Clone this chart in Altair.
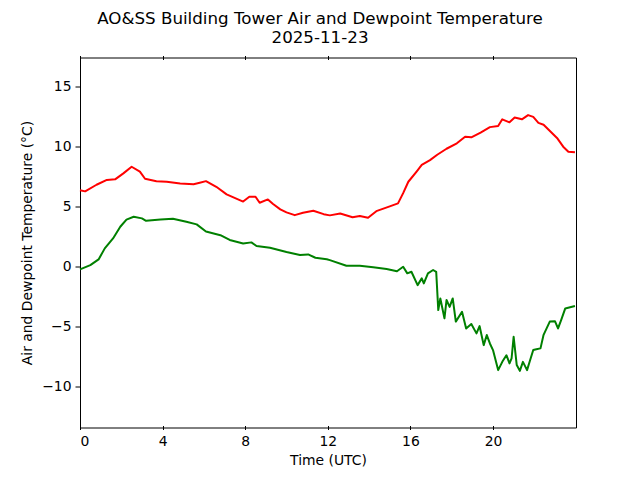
import altair as alt
import pandas as pd

# Air temperature (red): hours UTC, °C
air_hours = [0.0, 0.25, 0.8, 1.3, 1.7, 2.1, 2.5, 2.9, 3.15, 3.7, 4.2, 4.85, 5.5, 5.8, 6.1,
             6.6, 7.1, 7.9, 8.2, 8.5, 8.7, 9.1, 9.35, 9.7, 10.0, 10.4, 10.8, 11.3, 11.8,
             12.1, 12.6, 13.2, 13.55, 13.95, 14.35, 15.0, 15.4, 15.65, 15.9, 16.3, 16.55,
             16.95, 17.3, 17.75, 18.25, 18.65, 18.95, 19.4, 19.85, 20.25, 20.45, 20.8,
             21.05, 21.4, 21.7, 21.95, 22.2, 22.45, 23.1, 23.4, 23.65, 23.97]
air_temp = [6.35, 6.25, 6.8, 7.2, 7.25, 7.75, 8.3, 7.9, 7.3, 7.1, 7.05, 6.9, 6.85, 6.97, 7.1,
            6.63, 6.0, 5.4, 5.8, 5.8, 5.3, 5.58, 5.2, 4.75, 4.5, 4.27, 4.47, 4.63, 4.35,
            4.25, 4.4, 4.1, 4.2, 4.05, 4.6, 5.0, 5.25, 6.1, 7.05, 7.9, 8.45,
            8.85, 9.3, 9.8, 10.25, 10.8, 10.75, 11.15, 11.6, 11.7, 12.25, 12.0,
            12.4, 12.25, 12.6, 12.45, 11.95, 11.8, 10.7, 9.97, 9.55, 9.5]

# Dewpoint temperature (green): hours UTC, °C
dew_hours = [0.0, 0.5, 0.9, 1.2, 1.6, 1.95, 2.25, 2.6, 3.0, 3.2, 3.9, 4.5, 5.15, 5.65, 6.1,
             6.8, 7.25, 7.9, 8.3, 8.55, 9.2, 10.0, 10.65, 11.05, 11.4, 11.95, 12.1, 12.9,
             13.55, 14.2, 14.85, 15.35, 15.65, 15.85, 16.05, 16.35, 16.55, 16.65, 16.85,
             17.1, 17.25, 17.35, 17.45, 17.65, 17.75, 17.9, 18.05, 18.2, 18.5, 18.7, 18.95,
             19.2, 19.35, 19.55, 19.7, 19.85, 20.0, 20.25, 20.45, 20.65, 20.8, 20.9, 21.0,
             21.15, 21.3, 21.45, 21.65, 21.8, 21.95, 22.1, 22.3, 22.45, 22.75, 23.0, 23.15,
             23.3, 23.5, 23.97]
dew_temp = [-0.25, 0.1, 0.58, 1.5, 2.33, 3.3, 3.9, 4.13, 4.0, 3.8, 3.9, 3.97, 3.72, 3.5, 2.9,
            2.6, 2.2, 1.9, 2.0, 1.7, 1.55, 1.2, 0.95, 1.0, 0.72, 0.6, 0.52, 0.05,
            0.05, -0.08, -0.22, -0.4, -0.03, -0.58, -0.45, -1.56, -1.0, -1.42, -0.58,
            -0.3, -0.45, -3.64, -2.67, -4.33, -2.8, -3.37, -2.67, -4.6, -3.78, -5.17, -4.8,
            -5.58, -4.97, -6.56, -5.72, -6.42, -6.97, -8.64, -7.95, -7.4, -8.08, -7.67, -5.86,
            -8.22, -8.7, -7.95, -8.64, -7.8, -6.97, -6.9, -6.83, -5.7, -4.6, -4.56, -5.17,
            -4.47, -3.5, -3.3]

x_ticks = [0, 4, 8, 12, 16, 20]
y_ticks = [-10, -5, 0, 5, 10, 15]
series_names = ["Air", "Dewpoint"]
series_colors = ["#ff0000", "#008000"]

df = pd.concat([
    pd.DataFrame({"hour": air_hours, "temp": air_temp, "series": "Air"}),
    pd.DataFrame({"hour": dew_hours, "temp": dew_temp, "series": "Dewpoint"}),
])

FONT = "DejaVu Sans"
xscale = alt.Scale(domain=[0, 24.02], nice=False, zero=False)
yscale = alt.Scale(domain=[-13.42, 17.4], nice=False, zero=False)

lines = alt.Chart(df).mark_line(strokeWidth=2, strokeJoin="round").encode(
    x=alt.X("hour:Q", scale=xscale,
            axis=alt.Axis(orient="bottom", values=x_ticks, format="d", domain=False,
                          offset=-2, tickSize=4, tickColor="black", tickWidth=1,
                          labelFont=FONT, labelFontSize=13.9, labelColor="black",
                          labelPadding=5, grid=False, title="Time (UTC)",
                          titleFont=FONT, titleFontSize=13.9, titleFontWeight="normal",
                          titleColor="black", titlePadding=5)),
    y=alt.Y("temp:Q", scale=yscale,
            axis=alt.Axis(values=y_ticks, domain=False, tickSize=5, tickColor="black",
                          tickWidth=1, labelFont=FONT, labelFontSize=13.9,
                          labelColor="black", labelPadding=4, grid=False,
                          title="Air and Dewpoint Temperature (°C)", titleFont=FONT,
                          titleFontSize=13.9, titleFontWeight="normal",
                          titleColor="black", titlePadding=7)),
    color=alt.Color("series:N", scale=alt.Scale(domain=series_names, range=series_colors),
                    legend=None),
    detail="series:N",
)

top_axis = alt.Chart(df).mark_point(opacity=0).encode(
    x=alt.X("hour:Q", scale=xscale,
            axis=alt.Axis(orient="top", values=x_ticks, domain=False, offset=-2,
                          tickSize=4, tickColor="black", tickWidth=1, labels=False,
                          grid=False, title=None)),
)

chart = alt.layer(lines, top_axis).resolve_axis(x="independent").properties(
    width=496,
    height=370,
    autosize=alt.AutoSizeParams(type="none"),
    padding={"left": 72, "top": 49.5, "right": 56, "bottom": 40},
    title=alt.TitleParams(
        text=["AO&SS Building Tower Air and Dewpoint Temperature", "2025-11-23"],
        font=FONT, fontSize=16.7, fontWeight="normal", color="black",
        anchor="middle", frame="group", dx=-8, baseline="alphabetic",
        lineHeight=19.4, offset=-5,
    ),
).configure_view(stroke="black", strokeWidth=1)

chart.save("out.html", embed_options={"renderer": "svg", "actions": False})
